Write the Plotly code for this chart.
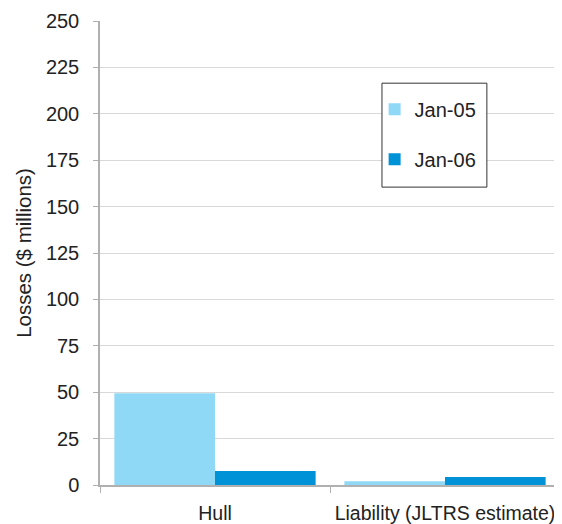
import plotly.graph_objects as go

categories = ["Hull", "Liability (JLTRS estimate)"]
jan05 = [49.5, 2.0]
jan06 = [7.5, 4.3]
series_names = ["Jan-05", "Jan-06"]
y_ticks = [0, 25, 50, 75, 100, 125, 150, 175, 200, 225, 250]

FONT = "Liberation Sans, Arial, sans-serif"
FS = 20

fig = go.Figure()
fig.add_trace(go.Bar(x=categories, y=jan05, name=series_names[0],
                     marker=dict(color="#8fd8f6", line=dict(width=0)),
                     legendgroup="a"))
fig.add_trace(go.Bar(x=categories, y=jan06, name=series_names[1],
                     marker=dict(color="#0092d6", line=dict(width=0)),
                     legendgroup="b"))

# legend frame (decoration only)
fig.add_shape(type="rect", xref="paper", yref="paper",
              x0=0.613, x1=0.841, y0=0.642, y1=0.866,
              line=dict(color="#333333", width=1), fillcolor="white",
              layer="above")

fig.update_layout(
    width=554, height=516,
    margin=dict(l=92, r=2, t=13, b=39),
    paper_bgcolor="white", plot_bgcolor="white",
    barmode="group", bargap=0.125, bargroupgap=0,
    font=dict(family=FONT, size=FS, color="#222222"),
    showlegend=True,
    legend=dict(x=0.597, y=0.852, xanchor="left", yanchor="top",
                bgcolor="rgba(0,0,0,0)", borderwidth=0,
                font=dict(size=FS), tracegroupgap=21,
                itemwidth=30, traceorder="grouped"),
    xaxis=dict(showline=True, linecolor="#b0b0b0", linewidth=1.5,
               ticks="outside", tickson="boundaries", ticklen=6,
               tickcolor="#b0b0b0", showgrid=False, automargin=False,
               ticklabelstandoff=10,
               tickfont=dict(size=19.5)),
    yaxis=dict(range=[0, 250], tickvals=y_ticks, showline=True,
               linecolor="#b0b0b0", linewidth=1.5, ticks="outside",
               ticklen=5, tickcolor="#b0b0b0", showgrid=True,
               gridcolor="#d9d9d9", gridwidth=1, zeroline=False,
               automargin=False,
               ticklabelstandoff=10,
               tickfont=dict(size=FS),
               title=dict(text="Losses ($ millions)", font=dict(size=20.5),
                          standoff=9)),
)

fig.write_html("out.html")
